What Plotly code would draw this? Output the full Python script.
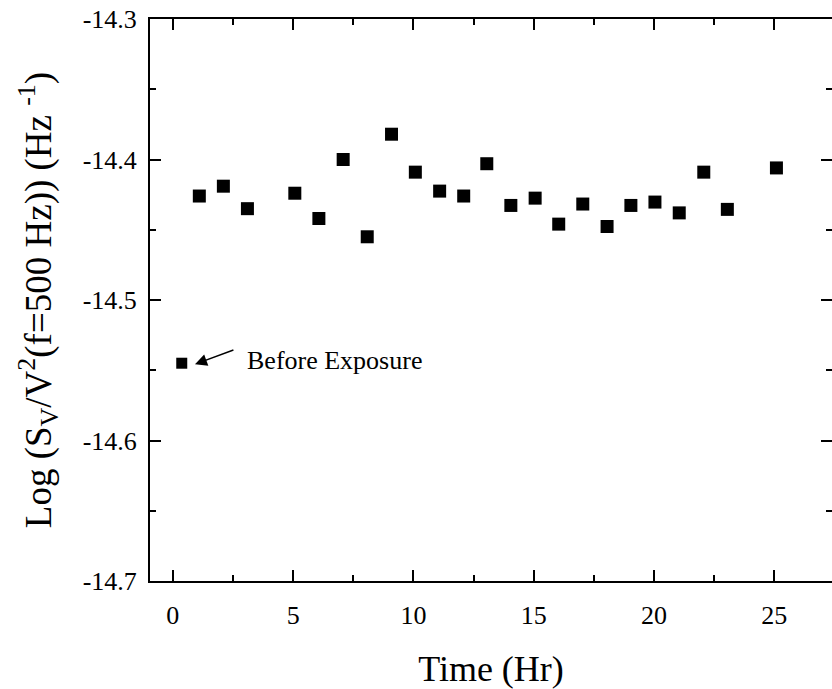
import plotly.graph_objects as go

# Data
before_time = [0.37]
before_logS = [-14.545]

time_hr = [1.1, 2.1, 3.1, 5.07, 6.07, 7.08, 8.08, 9.09, 10.08, 11.09, 12.09, 13.05,
           14.05, 15.06, 16.04, 17.04, 18.05, 19.04, 20.04, 21.05, 22.07, 23.05, 25.09]
log_s = [-14.426, -14.419, -14.435, -14.424, -14.442, -14.400, -14.455, -14.382, -14.409,
         -14.4225, -14.426, -14.403, -14.4327, -14.4275, -14.446, -14.4317, -14.4477,
         -14.4327, -14.4303, -14.438, -14.409, -14.4355, -14.406]

x_tickvals = [0, 5, 10, 15, 20, 25]
x_ticktext = ["0", "5", "10", "15", "20", "25"]
y_tickvals = [-14.7, -14.6, -14.5, -14.4, -14.3]
y_ticktext = ["-14.7", "-14.6", "-14.5", "-14.4", "-14.3"]

FONT = "Liberation Serif"

fig = go.Figure()
fig.add_trace(go.Scatter(x=time_hr, y=log_s, mode="markers",
                         marker=dict(symbol="square", size=13, color="black"),
                         showlegend=False))
fig.add_trace(go.Scatter(x=before_time, y=before_logS, mode="markers",
                         marker=dict(symbol="square", size=11, color="black"),
                         showlegend=False))
# invisible trace carrying the right-hand tick axis
fig.add_trace(go.Scatter(x=[None], y=[None], yaxis="y2", showlegend=False, hoverinfo="skip"))

fig.add_annotation(x=0.92, y=-14.5457, ax=2.58, ay=-14.5352, xref="x", yref="y",
                   axref="x", ayref="y", text="", showarrow=True, arrowhead=2,
                   arrowsize=1.6, arrowwidth=1.5, arrowcolor="black", standoff=0)
fig.add_annotation(x=3.0, y=-14.5433, xref="x", yref="y", text="Before Exposure",
                   showarrow=False, xanchor="left", yanchor="middle",
                   font=dict(family=FONT, size=26, color="black"))

fig.update_layout(
    width=832, height=689,
    margin=dict(l=150, r=0, t=19, b=108),
    paper_bgcolor="white", plot_bgcolor="white",
    font=dict(family=FONT, size=26, color="black"),
    xaxis=dict(
        range=[-0.95, 27.4], tickmode="array", tickvals=x_tickvals, ticktext=x_ticktext,
        ticks="inside", ticklen=11, tickwidth=2, tickcolor="black",
        showline=True, linewidth=2, linecolor="black", mirror="ticks",
        showgrid=False, zeroline=False,
        minor=dict(tickmode="linear", tick0=0, dtick=2.5, ticks="inside", ticklen=6,
                   tickwidth=2, tickcolor="black", showgrid=False),
        tickfont=dict(family=FONT, size=26, color="black"),
        ticklabelstandoff=10,
        title=dict(text="Time (Hr)", font=dict(family=FONT, size=36, color="black"), standoff=27),
    ),
    yaxis=dict(
        range=[-14.7, -14.3], tickmode="array", tickvals=y_tickvals, ticktext=y_ticktext,
        ticks="inside", ticklen=11, tickwidth=2, tickcolor="black",
        showline=True, linewidth=2, linecolor="black", mirror=False,
        showgrid=False, zeroline=False,
        minor=dict(tickmode="linear", tick0=-14.7, dtick=0.05, ticks="inside", ticklen=6,
                   tickwidth=2, tickcolor="black", showgrid=False),
        tickfont=dict(family=FONT, size=26, color="black"),
        ticklabelstandoff=6,
        title=dict(text="Log (S<sub>V</sub>/V<sup>2</sup>(f=500 Hz)) (Hz <sup>-1</sup>)",
                   font=dict(family=FONT, size=37, color="black"), standoff=20),
    ),
    yaxis2=dict(
        range=[-14.7, -14.3], overlaying="y", side="right", tickmode="array",
        tickvals=y_tickvals, showticklabels=False,
        ticks="inside", ticklen=11, tickwidth=2, tickcolor="black",
        showline=False, showgrid=False, zeroline=False,
        minor=dict(tickmode="linear", tick0=-14.7, dtick=0.05, ticks="inside", ticklen=6,
                   tickwidth=2, tickcolor="black", showgrid=False),
    ),
)

fig.write_html("out.html")
